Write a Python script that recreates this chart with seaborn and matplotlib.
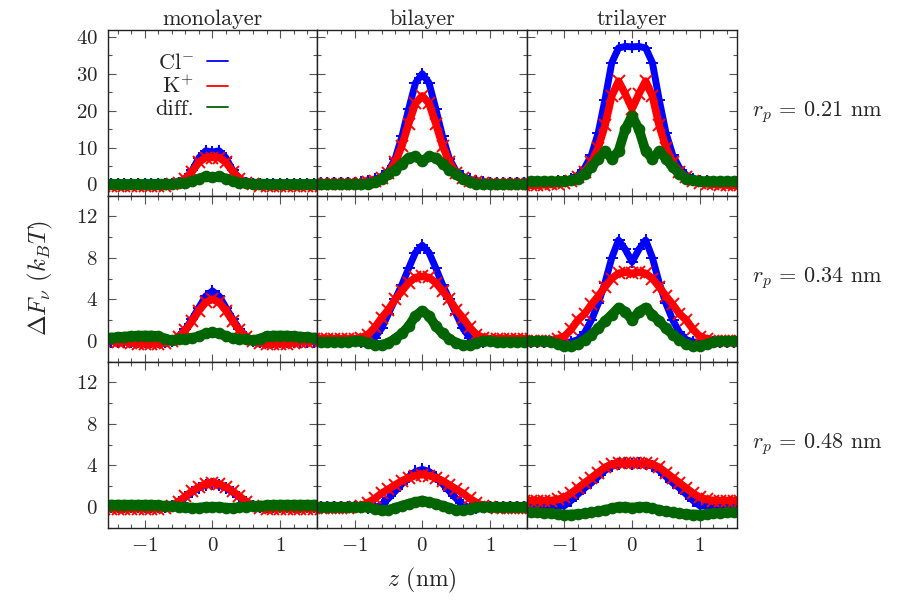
import numpy as np
import pandas as pd
import matplotlib
matplotlib.use("Agg")
import matplotlib.pyplot as plt
from matplotlib.lines import Line2D
from matplotlib.ticker import MultipleLocator
import seaborn as sns

sns.set_theme(style="ticks")
plt.rcParams['font.family'] = 'serif'
plt.rcParams['font.serif'] = ['cmr10', 'DejaVu Serif']
plt.rcParams['mathtext.fontset'] = 'cm'
plt.rcParams['axes.formatter.use_mathtext'] = True
plt.rcParams['axes.unicode_minus'] = True

# z grid (nm)
z = [-1.6, -1.5, -1.4, -1.3, -1.2, -1.1, -1.0, -0.9, -0.8, -0.7, -0.6,
     -0.5, -0.4, -0.3, -0.2, -0.1, 0.0, 0.1, 0.2, 0.3, 0.4, 0.5,
     0.6, 0.7, 0.8, 0.9, 1.0, 1.1, 1.2, 1.3, 1.4, 1.5, 1.6]

columns = ['monolayer', 'bilayer', 'trilayer']
radii = ['0.21', '0.34', '0.48']

# ---- r_p = 0.21 nm ----
mono_021_cl = [0, 0, 0, 0, 0, 0, 0, 0, 0, 0, 0.1,
               0.5, 1.6, 3.8, 7.2, 9.1, 8.8, 9.1, 7.2, 3.8, 1.6, 0.5,
               0.1, 0, 0, 0, 0, 0, 0, 0, 0, 0, 0]
mono_021_k = [-0.4, -0.4, -0.4, -0.4, -0.4, -0.4, -0.4, -0.4, -0.4, -0.3, 0.0,
              0.5, 1.6, 3.5, 6.0, 7.3, 7.3, 7.3, 6.0, 3.5, 1.6, 0.5,
              0.0, -0.3, -0.4, -0.4, -0.4, -0.4, -0.4, -0.4, -0.4, -0.4, -0.4]
mono_021_diff = [0.1, 0.1, 0.1, 0.1, 0.1, 0.1, 0.1, 0.1, 0.2, 0.2, 0.2,
                 0.3, 0.5, 0.9, 1.6, 2.2, 1.9, 2.2, 1.6, 0.9, 0.5, 0.3,
                 0.2, 0.2, 0.2, 0.1, 0.1, 0.1, 0.1, 0.1, 0.1, 0.1, 0.1]

bi_021_cl = [0.3, 0.3, 0.3, 0.3, 0.3, 0.3, 0.4, 0.6, 0.9, 1.4, 2.2,
             3.6, 7.0, 13.0, 20.5, 27.5, 30.0, 27.5, 20.5, 13.0, 7.0, 3.6,
             2.2, 1.4, 0.9, 0.6, 0.4, 0.3, 0.3, 0.3, 0.3, 0.3, 0.3]
bi_021_k = [0, 0, 0, 0, 0, 0, 0.1, 0.3, 0.6, 1.0, 1.8,
            3.2, 6.0, 10.5, 16.5, 22.0, 24.0, 22.0, 16.5, 10.5, 6.0, 3.2,
            1.8, 1.0, 0.6, 0.3, 0.1, 0, 0, 0, 0, 0, 0]
bi_021_diff = [0, 0, 0, 0, 0, 0, 0, 0, 0.2, 0.7, 1.5,
               2.7, 4.0, 5.6, 7.3, 7.6, 6.3, 7.6, 7.3, 5.6, 4.0, 2.7,
               1.5, 0.7, 0.2, 0, 0, 0, 0, 0, 0, 0, 0]

tri_021_cl = [0.6, 0.6, 0.6, 0.6, 0.7, 0.8, 1.0, 1.5, 2.5, 4.5, 8.0,
              14.0, 23.0, 33.0, 37.0, 37.4, 37.3, 37.4, 37.0, 33.0, 23.0, 14.0,
              8.0, 4.5, 2.5, 1.5, 1.0, 0.8, 0.7, 0.6, 0.6, 0.6, 0.6]
tri_021_k = [-0.2, -0.2, -0.2, -0.1, 0.0, 0.2, 0.5, 1.0, 2.0, 3.5, 6.0,
             10.0, 16.0, 24.0, 28.0, 24.5, 20.5, 24.5, 28.0, 24.0, 16.0, 10.0,
             6.0, 3.5, 2.0, 1.0, 0.5, 0.2, 0.0, -0.1, -0.2, -0.2, -0.2]
tri_021_diff = [0.8, 0.8, 0.8, 0.8, 0.8, 0.8, 0.9, 1.1, 1.6, 2.9, 4.7,
                7.0, 9.0, 7.0, 9.0, 15.0, 18.5, 15.0, 9.0, 7.0, 9.0, 7.0,
                4.7, 2.9, 1.6, 1.1, 0.9, 0.8, 0.8, 0.8, 0.8, 0.8, 0.8]

# ---- r_p = 0.34 nm ----
mono_034_cl = [-0.1, -0.1, -0.1, -0.1, -0.1, -0.1, -0.1, -0.1, -0.1, -0.1, 0.0,
               0.4, 1.1, 2.1, 3.2, 4.3, 4.8, 4.3, 3.2, 2.1, 1.1, 0.4,
               0.0, -0.1, -0.1, -0.1, -0.1, -0.1, -0.1, -0.1, -0.1, -0.1, -0.1]
mono_034_k = [0.0, 0.0, -0.1, -0.1, -0.2, -0.3, -0.3, -0.3, -0.3, -0.2, 0.0,
              0.4, 1.0, 1.9, 2.9, 3.7, 4.0, 3.7, 2.9, 1.9, 1.0, 0.4,
              0.0, -0.2, -0.3, -0.3, -0.3, -0.3, -0.2, -0.1, -0.1, 0.0, 0.0]
mono_034_diff = [0.3, 0.3, 0.35, 0.4, 0.45, 0.5, 0.5, 0.5, 0.45, 0.2, 0.05,
                 0.15, 0.2, 0.25, 0.45, 0.7, 0.8, 0.7, 0.45, 0.25, 0.2, 0.15,
                 0.05, 0.2, 0.45, 0.5, 0.5, 0.5, 0.45, 0.4, 0.35, 0.3, 0.3]

bi_034_cl = [0, 0, 0, 0, 0, 0, 0, -0.1, -0.1, 0.3, 1.2,
             2.6, 4.0, 5.4, 7.0, 8.5, 9.2, 8.5, 7.0, 5.4, 4.0, 2.6,
             1.2, 0.3, -0.1, -0.1, 0, 0, 0, 0, 0, 0, 0]
bi_034_k = [0.2, 0.2, 0.2, 0.2, 0.2, 0.2, 0.2, 0.3, 0.6, 1.3, 2.2,
            3.0, 4.0, 4.8, 5.6, 6.1, 6.2, 6.1, 5.6, 4.8, 4.0, 3.0,
            2.2, 1.3, 0.6, 0.3, 0.2, 0.2, 0.2, 0.2, 0.2, 0.2, 0.2]
bi_034_diff = [-0.1, -0.1, -0.1, -0.1, -0.1, -0.1, 0.0, 0.0, -0.2, -0.4, -0.4,
               -0.2, 0.2, 0.7, 1.4, 2.4, 2.9, 2.4, 1.4, 0.7, 0.2, -0.2,
               -0.4, -0.4, -0.2, 0.0, 0.0, -0.1, -0.1, -0.1, -0.1, -0.1, -0.1]

tri_034_cl = [-0.1, -0.1, -0.1, -0.1, -0.1, -0.1, -0.2, -0.1, 0.1, 0.8, 2.0,
              3.6, 5.6, 8.0, 9.7, 8.8, 7.6, 8.8, 9.7, 8.0, 5.6, 3.6,
              2.0, 0.8, 0.1, -0.1, -0.2, -0.1, -0.1, -0.1, -0.1, -0.1, -0.1]
tri_034_k = [0.0, 0.0, 0.0, 0.0, 0.0, 0.2, 0.4, 1.1, 2.0, 2.6, 3.5,
             4.3, 5.2, 6.0, 6.5, 6.6, 6.5, 6.6, 6.5, 6.0, 5.2, 4.3,
             3.5, 2.6, 2.0, 1.1, 0.4, 0.2, 0.0, 0.0, 0.0, 0.0, 0.0]
tri_034_diff = [0.0, 0.0, 0.0, 0.0, -0.1, -0.3, -0.5, -0.5, -0.3, 0.1, 0.6,
                1.2, 1.9, 2.5, 3.2, 2.8, 2.0, 2.8, 3.2, 2.5, 1.9, 1.2,
                0.6, 0.1, -0.3, -0.5, -0.5, -0.3, -0.1, 0.0, 0.0, 0.0, 0.0]

# ---- r_p = 0.48 nm ----
mono_048_cl = [0, 0, 0, 0, 0, 0, 0, 0, 0, 0, 0.1,
               0.5, 0.9, 1.4, 1.8, 2.1, 2.2, 2.1, 1.8, 1.4, 0.9, 0.5,
               0.1, 0, 0, 0, 0, 0, 0, 0, 0, 0, 0]
mono_048_k = [-0.2, -0.2, -0.2, -0.2, -0.2, -0.2, -0.2, -0.2, -0.2, -0.1, 0.1,
              0.5, 1.0, 1.5, 1.9, 2.2, 2.3, 2.2, 1.9, 1.5, 1.0, 0.5,
              0.1, -0.1, -0.2, -0.2, -0.2, -0.2, -0.2, -0.2, -0.2, -0.2, -0.2]
mono_048_diff = [0.2, 0.2, 0.2, 0.2, 0.2, 0.2, 0.2, 0.2, 0.15, 0.1, 0.1,
                 0.0, -0.05, -0.1, -0.1, 0.0, 0.0, 0.0, -0.1, -0.1, -0.05, 0.0,
                 0.1, 0.1, 0.15, 0.2, 0.2, 0.2, 0.2, 0.2, 0.2, 0.2, 0.2]

bi_048_cl = [0, 0, 0, 0, 0, 0, 0, 0, -0.1, -0.1, 0.2,
             0.8, 1.5, 2.2, 2.9, 3.4, 3.6, 3.4, 2.9, 2.2, 1.5, 0.8,
             0.2, -0.1, -0.1, 0, 0, 0, 0, 0, 0, 0, 0]
bi_048_k = [-0.1, -0.1, -0.1, -0.1, -0.1, -0.1, 0.0, 0.1, 0.4, 0.8, 1.3,
            1.7, 2.1, 2.5, 2.8, 3.0, 3.1, 3.0, 2.8, 2.5, 2.1, 1.7,
            1.3, 0.8, 0.4, 0.1, 0.0, -0.1, -0.1, -0.1, -0.1, -0.1, -0.1]
bi_048_diff = [0, 0, 0, 0, 0, 0, 0, 0, -0.05, -0.2, -0.35,
               -0.3, -0.1, 0.1, 0.3, 0.45, 0.6, 0.45, 0.3, 0.1, -0.1, -0.3,
               -0.35, -0.2, -0.05, 0, 0, 0, 0, 0, 0, 0, 0]

tri_048_cl = [0.1, 0.1, 0.1, 0.1, 0.1, 0.1, 0.1, 0.6, 1.2, 1.8, 2.3,
              2.9, 3.5, 3.9, 4.1, 4.2, 4.1, 4.2, 4.1, 3.9, 3.5, 2.9,
              2.3, 1.8, 1.2, 0.6, 0.1, 0.1, 0.1, 0.1, 0.1, 0.1, 0.1]
tri_048_k = [0.6, 0.6, 0.6, 0.6, 0.6, 0.7, 0.9, 1.3, 1.8, 2.3, 2.8,
             3.3, 3.8, 4.1, 4.2, 4.2, 4.2, 4.2, 4.2, 4.1, 3.8, 3.3,
             2.8, 2.3, 1.8, 1.3, 0.9, 0.7, 0.6, 0.6, 0.6, 0.6, 0.6]
tri_048_diff = [-0.55, -0.55, -0.55, -0.6, -0.65, -0.7, -0.75, -0.75, -0.7, -0.65, -0.55,
                -0.45, -0.3, -0.15, 0.0, 0.0, -0.1, 0.0, 0.0, -0.15, -0.3, -0.45,
                -0.55, -0.65, -0.7, -0.75, -0.75, -0.7, -0.65, -0.6, -0.55, -0.55, -0.55]

panels = [
    [(mono_021_cl, mono_021_k, mono_021_diff),
     (bi_021_cl, bi_021_k, bi_021_diff),
     (tri_021_cl, tri_021_k, tri_021_diff)],
    [(mono_034_cl, mono_034_k, mono_034_diff),
     (bi_034_cl, bi_034_k, bi_034_diff),
     (tri_034_cl, tri_034_k, tri_034_diff)],
    [(mono_048_cl, mono_048_k, mono_048_diff),
     (bi_048_cl, bi_048_k, bi_048_diff),
     (tri_048_cl, tri_048_k, tri_048_diff)],
]

series_names = [r'Cl$^{-}$', r'K$^{+}$', 'diff.']
colors = ['#0000ff', '#ff0000', '#006400']
markers = ['+', 'x', 'o']
line_w = [5.0, 5.5, 7.0]
mark_s = [9, 8, 7]

fig, axes = plt.subplots(3, 3, figsize=(9, 6), dpi=100)
fig.subplots_adjust(left=107.5 / 900, right=737 / 900,
                    top=1 - 29.5 / 600, bottom=1 - 527.5 / 600,
                    wspace=0, hspace=0)

for r in range(3):
    for c in range(3):
        ax = axes[r, c]
        for vals, col, mk, lw, ms in zip(panels[r][c], colors, markers,
                                         line_w, mark_s):
            df = pd.DataFrame({'z': z, 'F': vals})
            sns.lineplot(data=df, x='z', y='F', ax=ax, color=col,
                         linewidth=lw, marker=mk, markersize=ms,
                         markeredgecolor=col, markerfacecolor=col,
                         markeredgewidth=1.4, sort=False, legend=False)
        ax.set_xlim(-1.55, 1.55)
        if r == 0:
            ax.set_ylim(-3, 42)
            ax.yaxis.set_major_locator(MultipleLocator(10))
            ax.yaxis.set_minor_locator(MultipleLocator(5))
            ax.set_title(columns[c], fontsize=16, pad=3)
        else:
            ax.set_ylim(-2, 14)
            ax.yaxis.set_major_locator(MultipleLocator(4))
            ax.yaxis.set_minor_locator(MultipleLocator(2))
        ax.xaxis.set_major_locator(MultipleLocator(1))
        ax.xaxis.set_minor_locator(MultipleLocator(0.2))
        ax.tick_params(which='both', direction='in', top=True, right=True,
                       color='#555555', width=0.8,
                       labelleft=(c == 0), labelbottom=(r == 2),
                       labelsize=15, pad=7)
        ax.tick_params(which='major', length=5.5)
        ax.tick_params(which='minor', length=3)
        ax.set_xlabel('')
        ax.set_ylabel('')
        for sp in ax.spines.values():
            sp.set_color('#222222')
            sp.set_linewidth(1.0)
    axes[r, 2].text(1.07, 0.5, r'$r_p$ = 0.%s nm' % radii[r][2:],
                    transform=axes[r, 2].transAxes, ha='left', va='center',
                    fontsize=16)

# legend in the first panel, text placed before the short line
handles = [Line2D([], [], color=col, lw=1.3) for col in colors]
leg = axes[0, 0].legend(handles, series_names, loc='upper left',
                        bbox_to_anchor=(0.13, 0.98), frameon=False,
                        markerfirst=False, handlelength=0.95,
                        handletextpad=0.6, labelspacing=0.1, fontsize=16)
leg._legend_handle_box.get_children()[0].align = 'right'

fig.text(40 / 900, 1 - 278 / 600, r'$\Delta F_{\nu}\ (k_BT)$', rotation=90,
         ha='center', va='center', fontsize=18)
fig.text(422 / 900, 1 - 580 / 600, r'$z$ (nm)', ha='center', va='center',
         fontsize=17)

fig.savefig('out.png', dpi=100)
